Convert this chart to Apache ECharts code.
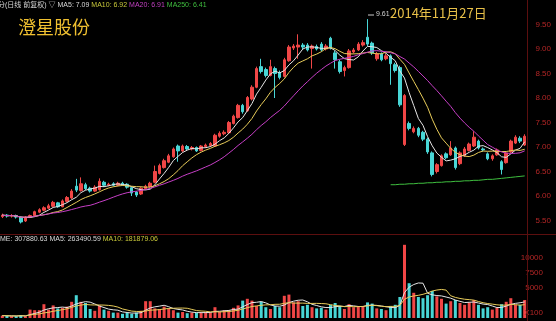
<!DOCTYPE html>
<html><head><meta charset="utf-8">
<script src="https://cdn.jsdelivr.net/npm/echarts@6/dist/echarts.min.js"></script>
<style>html,body{margin:0;padding:0;background:#000;}#c{width:556px;height:321px;}</style>
</head><body><div id="c"></div>
<script>
// ---- data ----
const opens  = [5.58,5.61,5.59,5.60,5.57,5.49,5.57,5.60,5.67,5.71,5.75,5.79,5.86,5.78,5.89,5.96,6.20,6.11,6.23,6.16,
                6.10,6.13,6.28,6.22,6.25,6.22,6.26,6.24,6.17,6.08,6.04,6.15,6.19,6.28,6.46,6.58,6.69,6.80,7.02,6.92,
                7.01,6.96,6.99,6.93,7.01,7.03,7.02,7.22,7.27,7.29,7.48,7.60,7.85,7.74,7.98,8.22,8.64,8.58,8.46,8.60,
                8.52,8.44,8.76,9.02,9.04,9.08,9.08,9.01,9.05,9.10,9.00,9.22,8.92,8.74,8.56,8.62,8.94,8.98,9.08,9.24,
                9.12,8.80,8.90,8.80,8.86,8.68,8.62,7.05,7.48,7.31,7.38,7.30,7.16,6.88,6.50,6.62,6.86,6.84,6.98,6.66,
                6.82,6.93,7.02,7.12,6.96,6.86,6.76,6.84,6.70,6.68,6.90,7.08,7.18,7.04];
const closes = [5.61,5.59,5.60,5.57,5.47,5.57,5.60,5.68,5.72,5.76,5.80,5.87,5.78,5.90,5.97,6.10,6.12,6.25,6.15,6.10,
                6.18,6.30,6.22,6.24,6.22,6.26,6.23,6.18,6.06,6.02,6.16,6.20,6.26,6.50,6.62,6.72,6.82,6.96,6.92,7.02,
                6.96,6.99,6.92,7.02,7.04,7.07,7.24,7.28,7.30,7.50,7.63,7.85,7.72,8.01,8.22,8.60,8.54,8.46,8.64,8.50,
                8.42,8.78,9.04,9.06,9.08,9.04,8.98,9.06,9.00,8.98,9.06,9.02,8.78,8.54,8.62,8.96,8.98,9.10,9.13,9.10,
                8.92,8.90,8.78,8.86,8.70,8.56,7.86,8.05,7.38,7.38,7.24,7.16,6.90,6.44,6.64,6.82,6.78,6.98,6.58,6.88,
                6.96,7.06,7.20,6.98,6.94,6.76,6.82,6.94,6.54,6.88,7.12,7.20,7.12,7.22];
const lows   = [5.55,5.56,5.56,5.54,5.44,5.47,5.55,5.58,5.65,5.69,5.73,5.77,5.76,5.77,5.87,5.94,6.08,6.09,6.12,6.07,
                6.08,6.11,6.19,6.20,6.20,6.20,6.21,6.15,6.00,5.98,6.02,6.13,6.17,6.26,6.44,6.56,6.67,6.78,6.70,6.90,
                6.93,6.93,6.90,6.91,6.98,7.00,7.00,7.19,7.24,7.27,7.46,7.58,7.68,7.72,7.95,8.20,8.50,8.42,8.44,8.00,
                8.38,8.42,8.74,8.98,8.80,9.00,8.95,8.60,8.97,8.95,8.97,8.99,8.60,8.50,8.44,8.60,8.91,8.96,9.05,9.06,
                8.88,8.76,8.75,8.77,8.27,8.52,7.82,7.02,7.34,7.28,7.20,7.12,6.86,6.40,6.46,6.60,6.75,6.82,6.54,6.63,
                6.80,6.91,7.00,6.95,6.91,6.73,6.72,6.82,6.44,6.66,6.88,7.06,7.08,7.02];
const highs  = [5.64,5.63,5.63,5.62,5.58,5.59,5.62,5.70,5.75,5.79,5.84,5.90,5.88,5.93,6.00,6.14,6.35,6.38,6.27,6.19,
                6.22,6.36,6.31,6.27,6.28,6.29,6.29,6.26,6.19,6.10,6.18,6.23,6.29,6.62,6.66,6.76,6.86,6.99,7.05,7.05,
                7.04,7.02,7.01,7.04,7.07,7.10,7.27,7.32,7.34,7.53,7.66,7.88,7.88,8.04,8.26,8.64,8.80,8.62,8.78,8.64,
                8.56,8.82,9.08,9.10,9.30,9.12,9.12,9.09,9.09,9.14,9.10,9.25,8.96,8.78,8.66,9.00,9.02,9.14,9.18,9.61,
                9.15,8.94,8.93,8.90,8.89,8.72,8.66,8.08,7.52,7.42,7.41,7.33,7.19,6.91,6.67,6.85,6.89,7.12,7.01,6.91,
                7.00,7.09,7.32,7.15,6.99,6.89,6.85,6.97,6.73,6.91,7.15,7.24,7.22,7.26];
const volumes = [400,350,300,300,500,300,1400,1300,1300,2300,1400,2100,1600,1700,1900,2700,3800,2700,2500,1500,
                 1200,2100,1400,1200,900,900,700,900,700,900,1200,2800,2800,1600,1500,1900,1600,1300,900,1000,
                 800,900,900,900,1000,900,1800,1000,1300,1300,1700,2100,2900,3200,2900,2000,2700,1800,1500,2000,
                 1800,3700,3900,2600,2800,2000,2200,1800,1600,1700,1400,2200,2500,2000,1500,2300,1800,2000,1900,2600,
                 2400,1600,1500,1300,2000,2200,3500,12200,5800,4200,3500,3300,3800,4500,3600,3200,2400,2800,3000,2500,
                 2200,2600,3000,2200,1600,1800,1400,1700,2300,2700,3300,2200,2200,3000];
const ma250Line = [6.23,6.23,6.24,6.24,6.25,6.25,6.26,6.26,6.27,6.27,6.28,6.28,6.29,6.29,6.30,6.30,6.31,6.31,6.32,6.32,
                   6.33,6.34,6.34,6.35,6.36,6.37,6.38,6.39,6.40,6.41];
const ma250Start = 84;
const priceTicksHidden = [5, 10];
const volLabels = [5000, 7500, 10000];

// ---- build ----
const categories = closes.map((_, i) => String(i + 1));
const kData = closes.map((c, i) => [opens[i], c, lows[i], highs[i]]);
function ma(arr, w) {
  return arr.map((_, i) => {
    const s = Math.max(0, i - w + 1);
    let t = 0; for (let k = s; k <= i; k++) t += arr[k];
    return +(t / (i - s + 1)).toFixed(3);
  });
}
const ma250 = categories.map((_, i) => i >= ma250Start ? ma250Line[i - ma250Start] : null);
const UP = '#f04646', DOWN = '#48d6d6';
const volData = volumes.map((v, i) => ({ value: v, itemStyle: { color: closes[i] >= opens[i] ? UP : DOWN } }));

const chart = echarts.init(document.getElementById('c'), null, { renderer: 'canvas' });
const lineS = (name, data, color, xi, yi) => ({
  name, type: 'line', data, xAxisIndex: xi, yAxisIndex: yi, symbol: 'none', silent: true,
  lineStyle: { width: 1, color }, itemStyle: { color }, z: 3
});
chart.setOption({
  backgroundColor: '#000',
  animation: false,
  grid: [
    { left: 0, right: 29, top: -7.5, height: 252.5 },
    { left: 0, right: 29, top: 243, height: 75 }
  ],
  xAxis: [
    { type: 'category', data: categories, gridIndex: 0, boundaryGap: true, show: false },
    { type: 'category', data: categories, gridIndex: 1, boundaryGap: true, show: false }
  ],
  yAxis: [
    { type: 'value', gridIndex: 0, position: 'right', min: 5, max: 10, interval: 0.5,
      axisLine: { show: false }, axisTick: { show: false }, splitLine: { show: false },
      axisLabel: { color: '#b32626', fontSize: 8, fontFamily: 'Arial, Liberation Sans, sans-serif',
        align: 'right', margin: 24, showMinLabel: false, showMaxLabel: false,
        formatter: v => priceTicksHidden.includes(v) ? '' : v.toFixed(2) } },
    { type: 'value', gridIndex: 1, position: 'right', min: 0, max: 12500, interval: 2500,
      axisLine: { show: false }, axisTick: { show: false }, splitLine: { show: false },
      axisLabel: { color: '#b32626', fontSize: 8, fontFamily: 'Arial, Liberation Sans, sans-serif',
        align: 'right', margin: 16, showMinLabel: false, showMaxLabel: false,
        formatter: v => volLabels.includes(v) ? String(v) : '' } }
  ],
  series: [
    { name: 'K', type: 'candlestick', data: kData, xAxisIndex: 0, yAxisIndex: 0, barWidth: 3,
      itemStyle: { color: UP, color0: DOWN, borderColor: UP, borderColor0: DOWN, borderWidth: 1 }, z: 2 },
    lineS('MA5', ma(closes, 5), '#e6e6e6', 0, 0),
    lineS('MA10', ma(closes, 10), '#e8cc5a', 0, 0),
    lineS('MA20', ma(closes, 20), '#c73fc7', 0, 0),
    lineS('MA250', ma250, '#3fbf3f', 0, 0),
    { name: 'VOL', type: 'bar', data: volData, xAxisIndex: 1, yAxisIndex: 1, barWidth: 3, z: 2 },
    lineS('VMA5', ma(volumes, 5), '#e6e6e6', 1, 1),
    lineS('VMA10', ma(volumes, 10), '#e8cc5a', 1, 1)
  ],
  graphic: [
    { type: 'line', shape: { x1: 527.5, y1: 0, x2: 527.5, y2: 321 }, style: { stroke: '#5c0f0f', lineWidth: 1 }, z: 1 },
    { type: 'line', shape: { x1: 0, y1: 234.5, x2: 556, y2: 234.5 }, style: { stroke: '#5c0f0f', lineWidth: 1 }, z: 1 },
    { type: 'text', left: -2, top: 2, z: 10, style: {
        text: '{w|分(日线 前复权) ▽ MA5: 7.09} {y|MA10: 6.92} {m|MA20: 6.91} {g|MA250: 6.41}',
        font: '7px Arial, sans-serif',
        rich: { w: { fill: '#d8d8d8', font: '7px Arial, Noto Sans CJK SC, sans-serif' },
                y: { fill: '#c9c93a', font: '7px Arial, sans-serif' },
                m: { fill: '#c040c0', font: '7px Arial, sans-serif' },
                g: { fill: '#3fbf3f', font: '7px Arial, sans-serif' } } } },
    { type: 'text', left: 18, top: 18, z: 10, style: { text: '澄星股份', fill: '#f0c030',
        font: '18px "Noto Sans CJK SC", sans-serif' } },
    { type: 'text', left: 390, top: 7, z: 10, style: { text: '2014年11月27日', fill: '#e8c048',
        font: '13px "Noto Sans CJK SC", sans-serif' } },
    { type: 'line', shape: { x1: 368, y1: 15, x2: 374, y2: 15 }, style: { stroke: '#cccccc', lineWidth: 1 }, z: 10 },
    { type: 'text', left: 376, top: 11, z: 10, style: { text: '9.61', fill: '#d0d0d0', font: '7px Arial, sans-serif' } },
    { type: 'text', left: 0, top: 236, z: 10, style: {
        text: '{w|ME: 307880.63 MA5: 263490.59} {y|MA10: 181879.06}',
        font: '7px Arial, sans-serif',
        rich: { w: { fill: '#d8d8d8', font: '7px Arial, sans-serif' },
                y: { fill: '#c9c93a', font: '7px Arial, sans-serif' } } } },
    { type: 'text', right: 13, top: 309, z: 10, style: { text: 'X100', fill: '#b32626', font: '8px Arial, sans-serif' } }
  ]
});
</script></body></html>
